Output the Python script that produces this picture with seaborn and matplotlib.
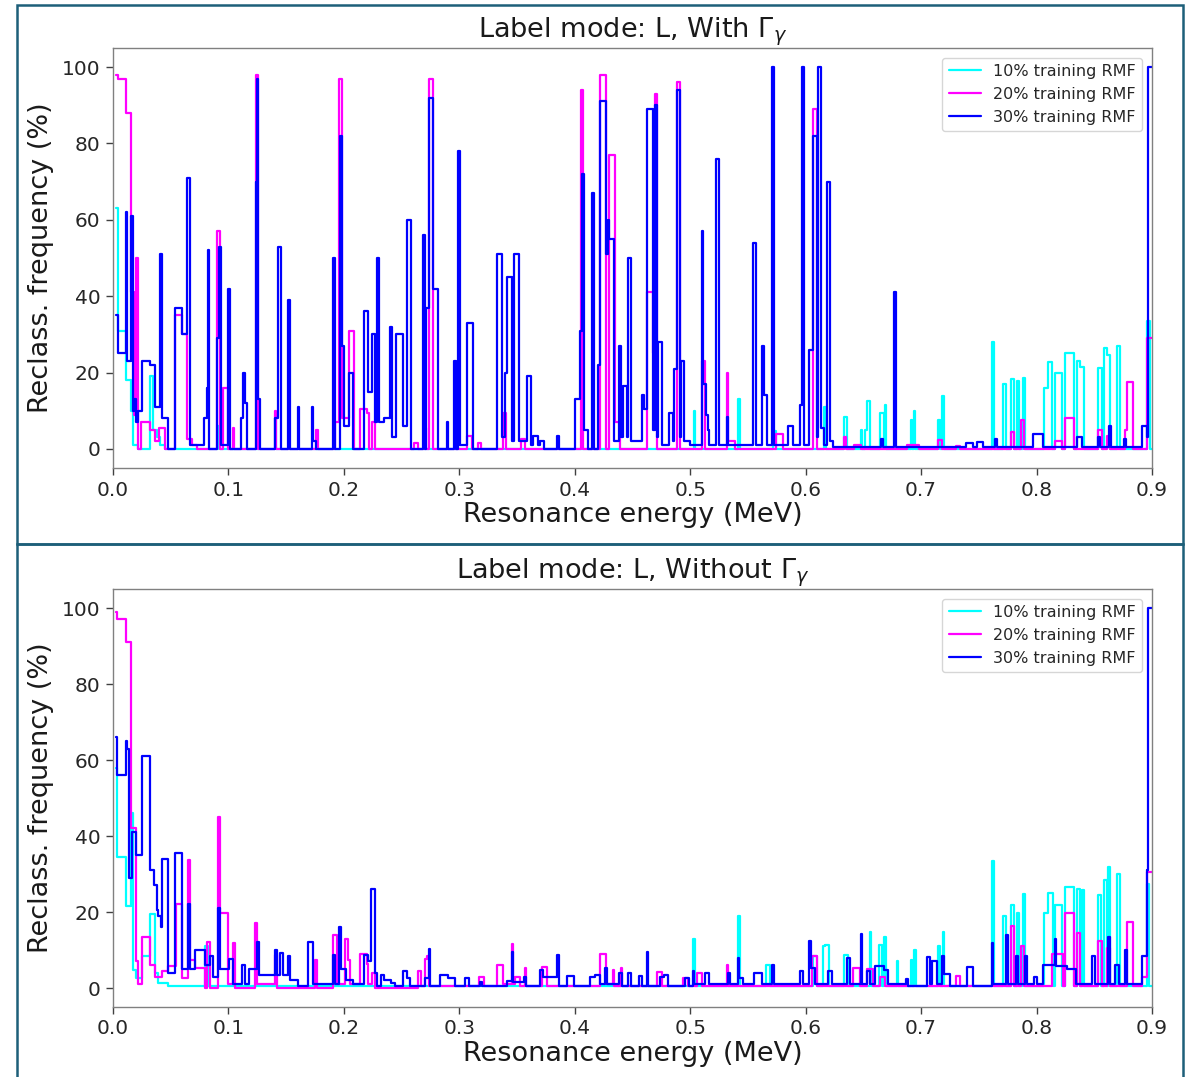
import numpy as np
import pandas as pd
import matplotlib
matplotlib.use("Agg")
import matplotlib.pyplot as plt
from matplotlib.patches import Rectangle
import seaborn as sns

# ---------------------------------------------------------------------------
# Reclassification frequency (%) versus resonance energy (MeV).
# Each series is a step function: value holds from one energy to the next.
# ---------------------------------------------------------------------------
SERIES = ["10% training RMF", "20% training RMF", "30% training RMF"]
COLORS = ["#00FFFF", "#FF00FF", "#0000FF"]
TITLES = [r"Label mode: L, With $\Gamma_\gamma$", r"Label mode: L, Without $\Gamma_\gamma$"]
XTICKS = [0.0, 0.1, 0.2, 0.3, 0.4, 0.5, 0.6, 0.7, 0.8, 0.9]
YTICKS = [0, 20, 40, 60, 80, 100]

# ---- With Gamma_gamma --------------------------------------------------------
with_e10 = [0.0030, 0.0040, 0.0110, 0.0160, 0.0170, 0.0215, 0.0321, 0.0350, 0.0385, 0.0410,
            0.0450, 0.0910, 0.0925, 0.1400, 0.1415, 0.5029, 0.5040, 0.5417, 0.5430, 0.5720,
            0.5740, 0.6159, 0.6172, 0.6334, 0.6355, 0.6477, 0.6490, 0.6515, 0.6530, 0.6560,
            0.6640, 0.6675, 0.6690, 0.6700, 0.6910, 0.6925, 0.6935, 0.6950, 0.7150, 0.7165,
            0.7185, 0.7195, 0.7612, 0.7632, 0.7708, 0.7737, 0.7780, 0.7805, 0.7830, 0.7852,
            0.7880, 0.7900, 0.8068, 0.8103, 0.8132, 0.8160, 0.8218, 0.8247, 0.8325, 0.8348,
            0.8377, 0.8412, 0.8536, 0.8564, 0.8585, 0.8608, 0.8637, 0.8700, 0.8723, 0.8956,
            0.8980, 0.9000]
with_v10 = [63, 31, 18, 10, 1, 0, 19, 5, 3, 1,
            0, 6, 0, 8, 0, 10, 0, 13, 0, 4.6,
            0, 11, 0, 8.4, 0, 5, 0, 5, 12.5, 0,
            9.3, 1, 11.6, 0, 7.7, 0, 10, 0, 7.5, 0,
            13.8, 0, 28, 0, 17, 0, 18.4, 0, 17.7, 0,
            18.7, 0, 16, 22.8, 0, 20, 0, 25, 0, 23,
            21.5, 0, 21.3, 0, 26.4, 24.5, 0, 27, 0, 33.6,
            0, 0]

with_e20 = [0.0030, 0.0040, 0.0110, 0.0153, 0.0180, 0.0199, 0.0215, 0.0240, 0.0321, 0.0364,
            0.0400, 0.0450, 0.0540, 0.0595, 0.0644, 0.0680, 0.0730, 0.0905, 0.0925, 0.0955,
            0.1000, 0.1040, 0.1050, 0.1235, 0.1255, 0.1400, 0.1415, 0.1760, 0.1775, 0.1920,
            0.1960, 0.1985, 0.2047, 0.2090, 0.2140, 0.2200, 0.2220, 0.2240, 0.2270, 0.2610,
            0.2640, 0.2700, 0.2715, 0.2740, 0.2768, 0.3064, 0.3110, 0.3160, 0.3190, 0.3375,
            0.3400, 0.3530, 0.3570, 0.4050, 0.4070, 0.4218, 0.4270, 0.4300, 0.4350, 0.4390,
            0.4623, 0.4675, 0.4695, 0.4715, 0.4883, 0.4912, 0.5100, 0.5130, 0.5317, 0.5330,
            0.5390, 0.5740, 0.5800, 0.6061, 0.6096, 0.6330, 0.6350, 0.6420, 0.6480, 0.6880,
            0.6980, 0.7150, 0.7180, 0.7300, 0.7340, 0.7780, 0.7805, 0.7866, 0.7890, 0.8160,
            0.8218, 0.8247, 0.8325, 0.8536, 0.8564, 0.8610, 0.8637, 0.8765, 0.8781, 0.8839,
            0.8956, 0.9000]
with_v20 = [98, 97, 88, 41, 9, 50, 0, 7, 5, 2,
            5.5, 0, 35, 30, 2.5, 1, 0, 57, 0, 16,
            0, 5.5, 0, 98, 0, 10, 0, 5, 0, 7,
            97, 8, 31, 0, 10.5, 9.5, 0, 7, 0, 1.6,
            0, 5.5, 0, 97, 0, 3.5, 0, 1.6, 0, 9.5,
            0, 2.5, 0, 94, 0, 98, 0, 77, 7, 0,
            41, 25, 93, 0, 96, 0, 23, 0, 20, 2,
            0, 4, 0, 89, 0, 3, 0, 1, 0, 1,
            0, 2.3, 0, 0.7, 0, 4.4, 0, 7.5, 0, 2,
            0, 8.2, 0, 5, 0, 3.3, 0, 5, 17.4, 0,
            29, 29]

with_e30 = [0.0030, 0.0040, 0.0110, 0.0125, 0.0153, 0.0170, 0.0180, 0.0195, 0.0215, 0.0248,
            0.0321, 0.0364, 0.0410, 0.0425, 0.0480, 0.0537, 0.0595, 0.0644, 0.0667, 0.0790,
            0.0810, 0.0822, 0.0835, 0.0900, 0.0915, 0.0935, 0.1000, 0.1015, 0.1110, 0.1130,
            0.1145, 0.1160, 0.1235, 0.1245, 0.1258, 0.1270, 0.1400, 0.1430, 0.1455, 0.1515,
            0.1530, 0.1605, 0.1615, 0.1725, 0.1735, 0.1760, 0.1905, 0.1920, 0.1970, 0.1985,
            0.2000, 0.2047, 0.2080, 0.2175, 0.2212, 0.2242, 0.2269, 0.2285, 0.2300, 0.2350,
            0.2400, 0.2420, 0.2452, 0.2515, 0.2544, 0.2579, 0.2685, 0.2700, 0.2715, 0.2740,
            0.2768, 0.2813, 0.2890, 0.2905, 0.2950, 0.2975, 0.2990, 0.3005, 0.3064, 0.3122,
            0.3329, 0.3373, 0.3395, 0.3410, 0.3454, 0.3477, 0.3517, 0.3584, 0.3618, 0.3640,
            0.3680, 0.3700, 0.3730, 0.3850, 0.3865, 0.4002, 0.4046, 0.4062, 0.4078, 0.4115,
            0.4150, 0.4165, 0.4200, 0.4218, 0.4270, 0.4285, 0.4300, 0.4340, 0.4386, 0.4400,
            0.4421, 0.4455, 0.4464, 0.4484, 0.4580, 0.4600, 0.4623, 0.4675, 0.4695, 0.4715,
            0.4724, 0.4753, 0.4817, 0.4848, 0.4860, 0.4883, 0.4912, 0.4918, 0.4947, 0.5000,
            0.5100, 0.5115, 0.5135, 0.5150, 0.5165, 0.5227, 0.5246, 0.5317, 0.5330, 0.5548,
            0.5570, 0.5619, 0.5640, 0.5665, 0.5707, 0.5730, 0.5851, 0.5894, 0.5950, 0.5966,
            0.5986, 0.6032, 0.6061, 0.6096, 0.6110, 0.6130, 0.6160, 0.6188, 0.6211, 0.6240,
            0.6650, 0.6670, 0.6765, 0.6783, 0.7389, 0.7447, 0.7482, 0.7534, 0.7640, 0.7660,
            0.7973, 0.8059, 0.8350, 0.8390, 0.8530, 0.8550, 0.8630, 0.8645, 0.8760, 0.8775,
            0.8911, 0.8956, 0.8968, 0.9000]
with_v30 = [35, 25, 62, 23, 61, 10, 13, 7, 10, 23,
            22, 11, 51, 8, 0, 37, 30, 71, 1, 8,
            16, 52, 0, 29, 53, 1, 42, 0, 8, 20,
            12, 0, 70, 97, 13, 0, 8, 53, 0, 39,
            0, 11, 0, 11, 2, 0, 50, 0, 82, 27,
            6, 20, 0, 36, 15, 30, 7, 50, 7, 8,
            32, 3, 30, 6, 60, 0, 56, 0, 37, 92,
            42, 0, 7, 0, 23, 0, 78, 1, 33, 0,
            51, 3, 20, 45, 2, 51, 2, 19, 1, 3.5,
            1, 2, 0, 3.5, 0, 13, 31, 72, 5, 0,
            67, 0, 22, 91, 51, 60, 55, 2, 27, 3,
            16.5, 3, 50, 2, 14, 10.5, 89, 5, 90, 3,
            28, 1, 9.5, 2, 21, 94, 3, 23, 2, 1,
            57, 17, 9, 5, 1, 76, 1, 8.4, 1, 54,
            1, 27, 14, 1, 100, 1, 6, 1, 11.6, 100,
            1, 26, 82, 3, 100, 5.5, 1, 70, 2, 0.5,
            2.6, 0.5, 41, 0.5, 1.6, 0.5, 1.8, 0.5, 2.6, 0.5,
            3.8, 0.5, 3, 0.5, 3.2, 0.5, 6, 0.5, 2.5, 0.5,
            6, 3, 100, 100]

# ---- Without Gamma_gamma -----------------------------------------------------
wo_e10 = [0.0030, 0.0038, 0.0113, 0.0153, 0.0170, 0.0199, 0.0248, 0.0321, 0.0364, 0.0393,
          0.0480, 0.0797, 0.0826, 0.5027, 0.5040, 0.5417, 0.5430, 0.5660, 0.5690, 0.6065,
          0.6095, 0.6147, 0.6167, 0.6206, 0.6334, 0.6363, 0.6557, 0.6570, 0.6632, 0.6661,
          0.6679, 0.6696, 0.6787, 0.6800, 0.6910, 0.6925, 0.6939, 0.6952, 0.7150, 0.7165,
          0.7188, 0.7200, 0.7612, 0.7632, 0.7708, 0.7737, 0.7780, 0.7805, 0.7830, 0.7852,
          0.7880, 0.7900, 0.8068, 0.8103, 0.8146, 0.8160, 0.8218, 0.8247, 0.8325, 0.8348,
          0.8372, 0.8392, 0.8412, 0.8536, 0.8556, 0.8585, 0.8608, 0.8622, 0.8637, 0.8700,
          0.8723, 0.8956, 0.8975, 0.9000]
wo_v10 = [58, 34.5, 21.6, 46, 4.8, 2.6, 8.5, 19.5, 4, 1.3,
          0.5, 11, 0.5, 12.8, 0.5, 19, 0.5, 6, 0.5, 8.3,
          0.5, 11, 11.4, 0.5, 8.7, 0.5, 14.8, 0.5, 11.4, 0.5,
          13.4, 0.5, 7.2, 0.5, 7.4, 0.5, 10, 0.5, 11, 0.5,
          14.8, 0.5, 33.5, 0.5, 19, 0.5, 21.8, 0.5, 19.8, 0.5,
          24.7, 0.5, 19.7, 25, 0.5, 21.8, 0.5, 26.6, 0.5, 26,
          0.5, 25.8, 0.5, 24.5, 0.5, 28.4, 0.5, 31.9, 0.5, 30,
          0.5, 27.5, 0.5, 0.5]

wo_e20 = [0.0030, 0.0038, 0.0113, 0.0153, 0.0199, 0.0220, 0.0248, 0.0321, 0.0364, 0.0422,
          0.0480, 0.0546, 0.0595, 0.0653, 0.0667, 0.0710, 0.0797, 0.0810, 0.0840, 0.0913,
          0.0927, 0.0999, 0.1040, 0.1055, 0.1230, 0.1250, 0.1405, 0.1420, 0.1750, 0.1770,
          0.1909, 0.1943, 0.2010, 0.2039, 0.2055, 0.2140, 0.2197, 0.2212, 0.2240, 0.2269,
          0.2640, 0.2670, 0.2700, 0.2719, 0.2735, 0.3170, 0.3210, 0.3329, 0.3376, 0.3454,
          0.3465, 0.3480, 0.3525, 0.3570, 0.3580, 0.3714, 0.3757, 0.4218, 0.4270, 0.4330,
          0.4342, 0.4400, 0.4412, 0.4710, 0.4753, 0.4941, 0.4984, 0.5056, 0.5100, 0.5316,
          0.5330, 0.6052, 0.6095, 0.6414, 0.6471, 0.6529, 0.6581, 0.6644, 0.6690, 0.7300,
          0.7335, 0.7370, 0.7550, 0.7775, 0.7805, 0.7866, 0.7895, 0.8132, 0.8227, 0.8247,
          0.8325, 0.8348, 0.8377, 0.8536, 0.8564, 0.8608, 0.8637, 0.8781, 0.8839, 0.8911,
          0.8956, 0.9000]
wo_v20 = [99, 97, 91, 42, 7, 1, 13.4, 6, 3, 4.4,
          5.9, 22, 2.6, 33.8, 7.4, 5.2, 0, 12.2, 0, 45,
          19.7, 1, 11.8, 0, 17.2, 1, 8.7, 0, 7.4, 0,
          14, 1, 13, 7.4, 1, 9, 6.4, 1, 4, 0,
          4.4, 0.5, 7.6, 8.5, 0.5, 3, 0.5, 6, 1, 11.6,
          1, 3, 0.5, 5.2, 0.5, 5.5, 0.5, 9, 1, 4.8,
          0.5, 5.2, 0.5, 4.1, 0.5, 2.6, 0.5, 3.9, 0.5, 6,
          0.5, 8.5, 0.5, 5.2, 0.5, 5, 0.5, 3, 0.5, 3.2,
          0.5, 0.4, 0.5, 16.2, 0.5, 11, 0.5, 9, 0.5, 19.7,
          0.5, 14.4, 0.5, 12.5, 0.5, 10.5, 0.5, 17.5, 0.5, 3,
          30.5, 30.5]

wo_e30 = [0.0030, 0.0038, 0.0113, 0.0120, 0.0142, 0.0162, 0.0199, 0.0248, 0.0321, 0.0358,
          0.0378, 0.0393, 0.0412, 0.0422, 0.0480, 0.0537, 0.0595, 0.0650, 0.0667, 0.0710,
          0.0797, 0.0840, 0.0862, 0.0913, 0.0927, 0.1008, 0.1042, 0.1115, 0.1145, 0.1175,
          0.1230, 0.1250, 0.1268, 0.1405, 0.1420, 0.1448, 0.1470, 0.1515, 0.1535, 0.1600,
          0.1692, 0.1735, 0.1905, 0.1920, 0.1960, 0.1975, 0.2020, 0.2080, 0.2174, 0.2212,
          0.2232, 0.2269, 0.2290, 0.2325, 0.2350, 0.2410, 0.2440, 0.2509, 0.2544, 0.2570,
          0.2700, 0.2738, 0.2750, 0.2833, 0.2905, 0.2960, 0.3050, 0.3080, 0.3175, 0.3200,
          0.3410, 0.3454, 0.3465, 0.3560, 0.3580, 0.3700, 0.3729, 0.3850, 0.3862, 0.3930,
          0.3990, 0.4130, 0.4175, 0.4218, 0.4265, 0.4280, 0.4380, 0.4410, 0.4460, 0.4485,
          0.4560, 0.4585, 0.4623, 0.4632, 0.4740, 0.4770, 0.4810, 0.4955, 0.4990, 0.5020,
          0.5035, 0.5130, 0.5165, 0.5330, 0.5345, 0.5412, 0.5420, 0.5460, 0.5550, 0.5625,
          0.5709, 0.5730, 0.5950, 0.5975, 0.6032, 0.6045, 0.6080, 0.6195, 0.6225, 0.6355,
          0.6380, 0.6477, 0.6490, 0.6530, 0.6560, 0.6600, 0.6640, 0.6679, 0.6710, 0.6869,
          0.6890, 0.7048, 0.7077, 0.7090, 0.7135, 0.7180, 0.7200, 0.7250, 0.7401, 0.7453,
          0.7612, 0.7625, 0.7737, 0.7750, 0.7820, 0.7835, 0.7900, 0.7915, 0.7980, 0.8000,
          0.8059, 0.8160, 0.8170, 0.8260, 0.8345, 0.8480, 0.8510, 0.8622, 0.8637, 0.8680,
          0.8710, 0.8768, 0.8780, 0.8911, 0.8956, 0.8968, 0.9000]
wo_v30 = [66, 56, 65, 63, 29, 41, 35, 61, 31, 27,
          20.5, 19, 16, 34, 4, 35.5, 5, 22, 5, 10,
          6, 8.3, 3, 21, 5, 7.6, 1, 6, 1, 5,
          5, 12, 3.5, 10, 3.5, 9.3, 3.5, 8.5, 2, 0.5,
          12, 1, 8.7, 1, 16, 5, 2, 1, 8.7, 7.2,
          26, 4, 0.5, 3.5, 2.2, 1.3, 0.5, 4.6, 2.6, 0.5,
          2.6, 10.2, 0.5, 3.5, 2.6, 0.5, 2.6, 0.5, 1.5, 0.5,
          1.8, 9.6, 1.5, 2.8, 0.5, 4.8, 3, 8.7, 0.5, 3.2,
          0.5, 3, 3.5, 1, 5.2, 1, 4, 0.5, 4, 0.5,
          3.2, 0.5, 9.6, 0.5, 3, 3.5, 0.5, 2.6, 0.5, 4.4,
          1, 4, 1, 4, 1, 7.9, 2.6, 1, 4, 1,
          6, 1, 4.4, 1, 12.5, 5.2, 1, 4.4, 1, 7.9,
          1, 14.2, 1, 4.4, 1, 5.7, 5.7, 4.8, 1, 2.5,
          0.5, 8.1, 1, 7.2, 1, 8.3, 3.7, 0.5, 5.5, 0.5,
          11.8, 1, 14, 1, 8.3, 1, 8.3, 1, 3, 1,
          6, 13, 5.7, 5, 1, 8.3, 1, 13.5, 1, 6,
          1, 10, 1, 8.3, 31, 100, 100]

PANELS = [
    (TITLES[0], [(with_e10, with_v10), (with_e20, with_v20), (with_e30, with_v30)]),
    (TITLES[1], [(wo_e10, wo_v10), (wo_e20, wo_v20), (wo_e30, wo_v30)]),
]

# ---------------------------------------------------------------------------
sns.set_theme(style="ticks")
plt.rcParams["font.family"] = ["DejaVu Sans"]
plt.rcParams["mathtext.fontset"] = "dejavusans"

W, H = 1191, 1077
fig = plt.figure(figsize=(W / 100, H / 100), dpi=100)
fig.patch.set_facecolor("white")

# framed boxes around each panel
frame_color = "#1d5f79"
fig.add_artist(Rectangle((17 / W, 1 - 544 / H), (1183 - 17) / W, (544 - 5) / H,
                         transform=fig.transFigure, fill=False,
                         edgecolor=frame_color, lw=1.8))
fig.add_artist(Rectangle((17 / W, -0.02), (1183 - 17) / W, 1 - 544 / H + 0.02,
                         transform=fig.transFigure, fill=False,
                         edgecolor=frame_color, lw=1.8, clip_on=False))

axes_px = [(113, 48, 1152, 468), (113, 589, 1152, 1007)]

for (title, series), (x0, y0, x1, y1) in zip(PANELS, axes_px):
    ax = fig.add_axes([x0 / W, 1 - y1 / H, (x1 - x0) / W, (y1 - y0) / H])
    frames = []
    for name, (e, v) in zip(SERIES, series):
        frames.append(pd.DataFrame({"energy": e, "freq": v, "series": name}))
    df = pd.concat(frames, ignore_index=True)
    sns.lineplot(data=df, x="energy", y="freq", hue="series", hue_order=SERIES,
                 palette=COLORS, estimator=None, sort=False,
                 drawstyle="steps-post", lw=1.6, ax=ax)

    ax.set_xlim(0, 0.9)
    ax.set_ylim(-5, 105)
    ax.set_xticks(XTICKS)
    ax.set_xticklabels([f"{t:.1f}" for t in XTICKS])
    ax.set_yticks(YTICKS)
    ax.tick_params(labelsize=14.5, length=5, width=1, color="0.25",
                   labelcolor="0.15", pad=4)
    for sp in ax.spines.values():
        sp.set_visible(True)
        sp.set_color("0.5")
        sp.set_linewidth(1.0)
    ax.set_title(title, fontsize=19.5, color="0.1", pad=7)
    ax.set_xlabel("Resonance energy (MeV)", fontsize=19.5, color="0.1", labelpad=2)
    ax.set_ylabel("Reclass. frequency (%)", fontsize=19.5, color="0.1", labelpad=6)

    leg = ax.legend(loc="upper right", fontsize=11.5, frameon=True,
                    handlelength=2.0, borderaxespad=0.6)
    leg.get_frame().set_edgecolor("0.8")
    for line in leg.get_lines():
        line.set_linewidth(1.6)

fig.savefig("out.png", dpi=100, facecolor="white")
